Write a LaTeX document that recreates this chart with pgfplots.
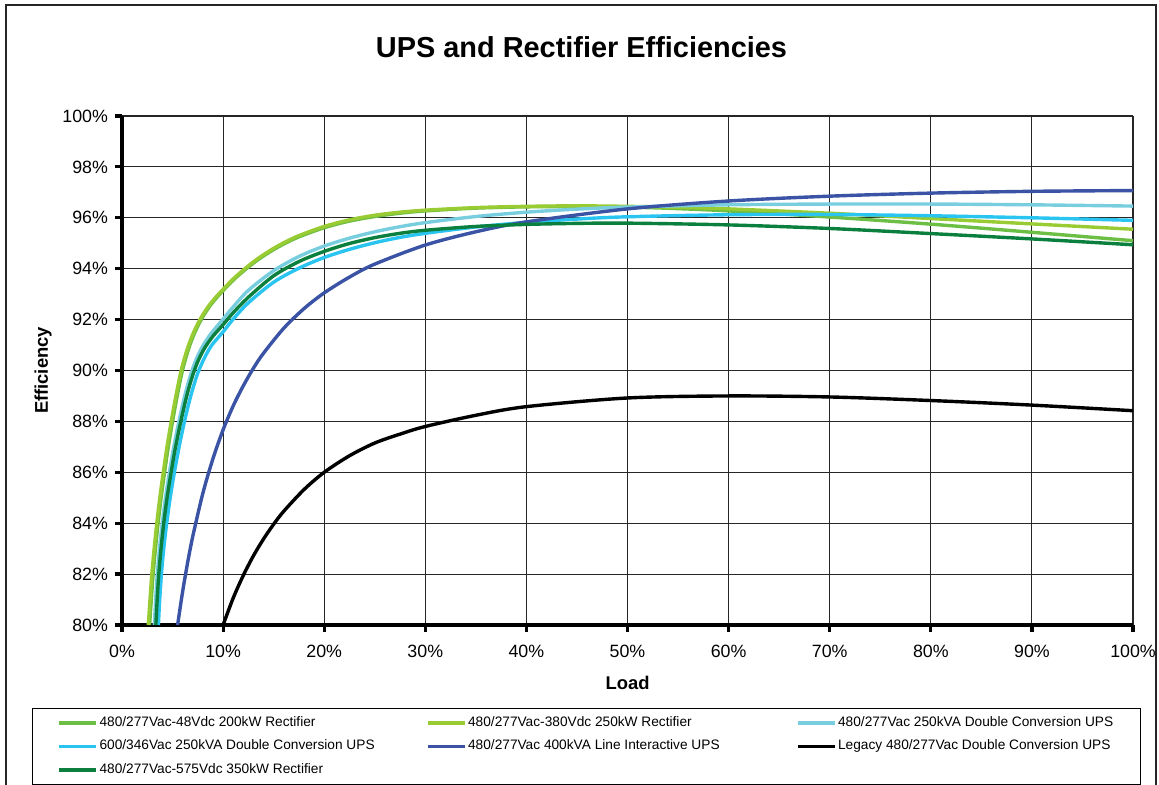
\documentclass[border=0pt]{standalone}
\usepackage{fontspec}
\setmainfont{Liberation Sans}
\usepackage{pgfplots}
\pgfplotsset{compat=1.18}

\definecolor{cA}{RGB}{108,190,69}
\definecolor{cB}{RGB}{153,204,51}
\definecolor{cC}{RGB}{120,206,222}
\definecolor{cD}{RGB}{41,196,240}
\definecolor{cE}{RGB}{58,83,164}
\definecolor{cF}{RGB}{0,0,0}
\definecolor{cG}{RGB}{10,127,62}

\begin{document}
\begin{tikzpicture}
\useasboundingbox (-61pt,-80pt) rectangle (518.5pt,312.5pt);
\draw[line width=0.6pt, black!85] (-58pt,-85pt) rectangle (517pt,310pt);
\node[font=\fontsize{14.45}{17}\selectfont\bfseries] at (229.75pt,288.75pt) {UPS and Rectifier Efficiencies};
\begin{axis}[
  scale only axis, width=505.5pt, height=254.5pt,
  xmin=0, xmax=100, ymin=80, ymax=100,
  xtick={0,10,...,100}, ytick={80,82,...,100},
  xticklabel={\pgfmathprintnumber{\tick}\%},
  yticklabel={\pgfmathprintnumber{\tick}\%},
  /pgf/number format/assume math mode=true,
  ticklabel style={font=\fontsize{8.9}{10}\selectfont},
  xticklabel style={yshift=-3pt},
  axis x line*=bottom, axis y line*=left,
  axis line style={line width=2pt, black},
  tick align=outside, major tick length=3.5pt,
  tick style={line width=1.6pt, black},
  grid=major, major grid style={line width=0.55pt, black!85},
  xlabel={Load}, ylabel={Efficiency},
  every axis x label/.style={at={(axis description cs:0.5,0)}, yshift=-29pt, anchor=center},
  every axis y label/.style={at={(axis description cs:0,0.5)}, xshift=-39.5pt, rotate=90, anchor=center},
  label style={font=\fontsize{9.2}{11}\selectfont\bfseries},
  legend columns=3,
  legend cell align=left,
  legend image code/.code={\draw[#1, line width=1.7pt] (0pt,0pt) -- (18.5pt,0pt);},
  legend style={at={(axis description cs:-0.0895,-0.163)}, anchor=north west,
    draw=black, line width=0.5pt, inner xsep=12.75pt, inner ysep=3pt,
    font=\fontsize{6.85}{8}\selectfont, row sep=3.25pt,
    nodes={inner xsep=0.8pt, inner ysep=1pt, text height=5pt, text depth=1.5pt},
    /tikz/column 2/.style={column sep=24.9pt},
    /tikz/column 4/.style={column sep=37.4pt}},
  every axis plot/.append style={line width=1.7pt, smooth, mark=none},
]
\addplot[cA] coordinates {(2.73,80) (2.9,81) (3.08,82) (3.31,83) (3.57,84) (3.87,85) (4.21,86) (4.58,87) (5.0,88) (5.46,89) (5.98,90) (6.58,90.84) (7.18,91.47) (7.88,92.03) (8.63,92.5) (9.38,92.87) (10,93.14) (11,93.55) (12,93.9) (13,94.22) (14,94.5) (15,94.75) (16,94.97) (17.5,95.25) (20,95.61) (22.5,95.87) (25,96.05) (27.5,96.18) (30,96.27) (35,96.38) (40,96.43) (45,96.44) (50,96.42) (55,96.36) (60,96.27) (70,96.03) (80,95.75) (90,95.43) (100,95.1)};
\addlegendentry{480/277Vac-48Vdc 200kW Rectifier}
\addplot[cB] coordinates {(2.6,80) (2.77,81) (2.95,82) (3.18,83) (3.44,84) (3.74,85) (4.08,86) (4.45,87) (4.87,88) (5.33,89) (5.85,90) (6.45,90.84) (7.05,91.47) (7.75,92.03) (8.5,92.5) (9.25,92.87) (10,93.19) (11,93.6) (12,93.95) (13,94.27) (14,94.55) (15,94.8) (16,95.02) (17.5,95.3) (20,95.66) (22.5,95.92) (25,96.1) (27.5,96.22) (30,96.3) (35,96.4) (40,96.45) (45,96.47) (50,96.45) (55,96.41) (60,96.35) (70,96.18) (80,95.97) (90,95.76) (100,95.55)};
\addlegendentry{480/277Vac-380Vdc 250kW Rectifier}
\addplot[cC] coordinates {(3.2,80) (3.33,81) (3.49,82) (3.71,83) (3.98,84) (4.3,85) (4.69,86) (5.12,87) (5.63,88) (6.2,89) (6.78,89.82) (7.35,90.45) (8.0,90.97) (8.8,91.45) (10,92.02) (11,92.5) (12.5,93.15) (15,93.92) (17.5,94.48) (20,94.89) (22.5,95.2) (25,95.45) (27.5,95.65) (30,95.81) (35,96.05) (40,96.22) (45,96.34) (50,96.42) (60,96.51) (70,96.54) (80,96.54) (90,96.51) (100,96.46)};
\addlegendentry{480/277Vac 250kVA Double Conversion UPS}
\addplot[cD] coordinates {(3.6,80) (3.73,81) (3.9,82) (4.13,83) (4.42,84) (4.77,85) (5.18,86) (5.65,87) (6.18,88) (6.8,89) (7.45,89.85) (8.1,90.45) (8.85,90.98) (10,91.52) (11,92.02) (12.5,92.66) (15,93.47) (17.5,94.02) (20,94.44) (22.5,94.76) (25,95.02) (27.5,95.23) (30,95.39) (35,95.64) (40,95.82) (45,95.95) (50,96.04) (60,96.12) (70,96.13) (80,96.08) (90,96.0) (100,95.9)};
\addlegendentry{600/346Vac 250kVA Double Conversion UPS}
\addplot[cE] coordinates {(5.5,80) (6,81.32) (6.5,82.47) (7,83.48) (8,85.18) (9,86.54) (10,87.67) (11,88.61) (12,89.4) (13,90.09) (14,90.68) (16,91.66) (18,92.43) (20,93.05) (22.5,93.67) (25,94.18) (30,94.93) (35,95.45) (40,95.84) (50,96.35) (60,96.66) (70,96.85) (80,96.97) (90,97.04) (100,97.07)};
\addlegendentry{480/277Vac 400kVA Line Interactive UPS}
\addplot[cF] coordinates {(10,80) (11,81.06) (12,81.95) (13,82.72) (14,83.38) (15,83.96) (16,84.47) (18,85.32) (20,86.0) (22.5,86.65) (25,87.15) (27.5,87.5) (30,87.8) (35,88.24) (40,88.58) (50,88.92) (60,89.0) (70,88.96) (80,88.82) (90,88.64) (100,88.42)};
\addlegendentry{Legacy 480/277Vac Double Conversion UPS}
\addplot[cG] coordinates {(3.35,80) (3.48,81) (3.64,82) (3.86,83) (4.13,84) (4.46,85) (4.86,86) (5.3,87) (5.82,88) (6.4,89) (6.98,89.8) (7.55,90.4) (8.2,90.9) (9.0,91.35) (10,91.8) (11,92.27) (12.5,92.88) (15,93.72) (17.5,94.28) (20,94.68) (22.5,94.99) (25,95.22) (27.5,95.39) (30,95.51) (35,95.66) (40,95.74) (45,95.78) (50,95.79) (60,95.72) (70,95.58) (80,95.38) (90,95.17) (100,94.94)};
\addlegendentry{480/277Vac-575Vdc 350kW Rectifier}
\end{axis}
\end{tikzpicture}
\end{document}
